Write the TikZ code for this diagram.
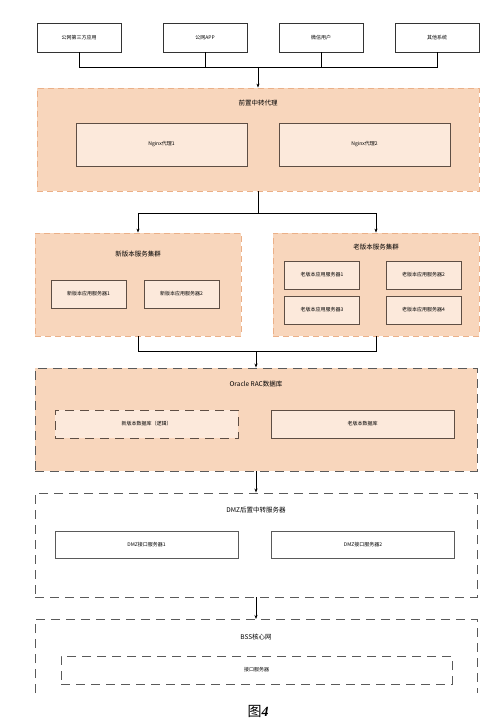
\documentclass[tikz,border=0pt]{standalone}
\usepackage{fontspec}
\setmainfont{Noto Sans CJK SC}
\newfontfamily\capfont{Liberation Serif}
\usepackage{tikz}
\usetikzlibrary{positioning,arrows.meta}

\definecolor{peach}{HTML}{F8D6BC}
\definecolor{peachlt}{HTML}{FCE9DB}
\definecolor{peachln}{HTML}{EBB088}
\definecolor{boxln}{HTML}{5E4E44}
\definecolor{grayln}{HTML}{5A5A5A}

\begin{document}
\begin{tikzpicture}[
      x=1pt, y=-1pt,
      font=\fontsize{5}{6}\selectfont,
      srcbox/.style={draw=black!80, line width=0.8pt, minimum width=84pt,
                     minimum height=29pt, inner sep=0pt},
      grp/.style={draw=peachln, fill=peach, dashed, dash pattern=on 6pt off 4pt,
                  line width=0.8pt, minimum width=442pt, minimum height=103pt,
                  inner sep=0pt},
      subgrp/.style={grp, minimum width=206pt},
      zone/.style={draw=grayln, dash pattern=on 9pt off 6pt, line width=0.9pt,
                   minimum width=442pt, minimum height=104pt, inner sep=0pt},
      srv/.style={draw=boxln, fill=peachlt, line width=0.9pt, minimum width=75pt,
                  minimum height=28pt, inner sep=0pt},
      wide/.style={srv, minimum width=183pt},
      ttl/.style={font=\fontsize{6.5}{8}\selectfont},
      >={Stealth[length=4pt,width=3pt]}
    ]
    \useasboundingbox (0,0) rectangle (500,725);

    % callers
    \node[srcbox] (t1) at (79,37.5)  {公网第三方应用};
    \node[srcbox] (t2) at (205,37.5) {公网APP};
    \node[srcbox] (t3) at (321,37.5) {微信用户};
    \node[srcbox] (t4) at (437,37.5) {其他系统};

    % front proxy
    \node[grp] (proxy) at (258,139.5) {};
    \node[ttl] (proxyt) at (258,103) {前置中转代理};
    \node[srv, minimum width=171pt, minimum height=43pt] (ng1) at (161.5,144.5) {Nginx代理1};
    \node[srv, minimum width=171pt, minimum height=43pt] (ng2) at (364.5,144.5) {Nginx代理2};

    % service clusters
    \node[subgrp] (newc) at (138,284.5) {};
    \node[ttl] (newct) at (138,254) {新版本服务集群};
    \node[srv] (new1) at (88.5,294)  {新版本应用服务器1};
    \node[srv] (new2) at (181.5,294) {新版本应用服务器2};

    \node[subgrp] (oldc) at (376,284.5) {};
    \node[ttl] (oldct) at (376,247) {老版本服务集群};
    \node[srv] (old1) at (322,275)   {老版本应用服务器1};
    \node[srv] (old2) at (423.5,275) {老版本应用服务器2};
    \node[srv] (old3) at (322,310)   {老版本应用服务器3};
    \node[srv] (old4) at (423.5,310) {老版本应用服务器4};

    % database
    \node[zone, fill=peach, minimum height=103pt] (db) at (256,419.5) {};
    \node[ttl] (dbt) at (256,384) {Oracle RAC数据库};
    \node[wide, dashed, dash pattern=on 9pt off 6pt] (newdb) at (146.5,424) {新版本数据库（逻辑）};
    \node[wide] (olddb) at (362.5,424) {老版本数据库};

    % DMZ
    \node[zone] (dmz) at (256,545) {};
    \node[ttl] (dmzt) at (256,510) {DMZ后置中转服务器};
    \node[wide, fill=none, draw=grayln, minimum height=27pt] (dmz1) at (146.5,544.5) {DMZ接口服务器1};
    \node[wide, fill=none, draw=grayln, minimum height=27pt] (dmz2) at (363,544.5) {DMZ接口服务器2};

    % BSS, open at the bottom
    \coordinate (bsstop) at (256,619);
    \draw[grayln, dash pattern=on 9pt off 6pt, line width=0.9pt]
      (35,693) -- (35,619) -- (477,619) -- (477,693);
    \node[ttl] (bsst) at (256,637) {BSS核心网};
    \node[draw=grayln, dash pattern=on 9pt off 6pt, line width=0.9pt,
          minimum width=391pt, minimum height=28pt, inner sep=0pt] (itf) at (256.5,670) {接口服务器};

    \node[font=\fontsize{14}{16}\selectfont] (cap) at (258,711) {图{\capfont\bfseries\itshape 4}};

    % connectors
    \coordinate (j1) at (258,67);
    \foreach \n in {t1,t2,t3,t4} {
      \draw[line width=0.8pt] (\n.south) |- (j1);
    }
    \draw[->, line width=0.8pt] (j1) -- (proxy.north);

    \coordinate (j2) at (258,213);
    \draw[line width=0.8pt] (proxy.south) -- (j2);
    \draw[->, line width=0.8pt] (j2) -| (newc.north);
    \draw[->, line width=0.8pt] (j2) -| (oldc.north);

    \coordinate (j3) at (256,351);
    \draw[line width=0.8pt] (newc.south) |- (j3);
    \draw[line width=0.8pt] (oldc.south) |- (j3);
    \draw[->, line width=0.8pt] (j3) -- (db.north);
    \draw[->, line width=0.8pt] (db.south) -- (dmz.north);
    \draw[->, line width=0.8pt] (dmz.south) -- (bsstop);
  \end{tikzpicture}
\end{document}
